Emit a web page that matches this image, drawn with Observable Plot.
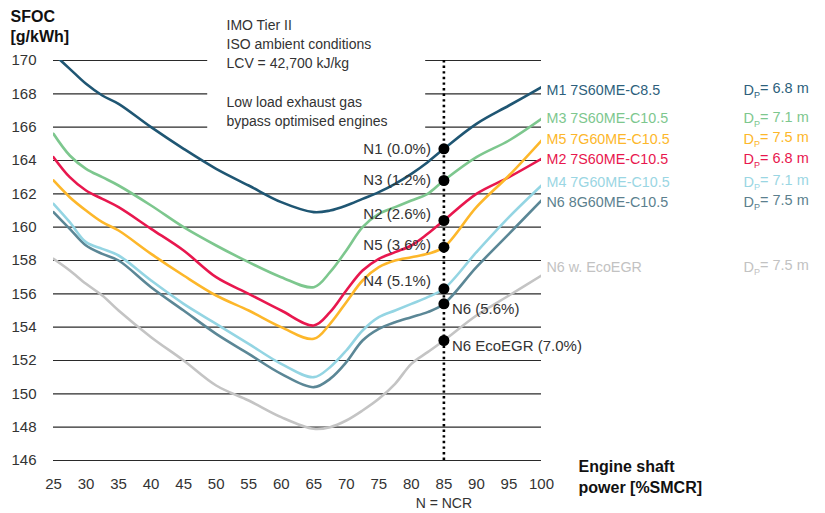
<!DOCTYPE html>
<html>
<head>
<meta charset="utf-8">
<style>
  body { margin: 0; background: #fff; }
  #chart svg { font-family: "Liberation Sans", Arial, sans-serif; }
</style>
<script src="https://cdn.jsdelivr.net/npm/d3@7"></script>
<script src="https://cdn.jsdelivr.net/npm/@observablehq/plot@0.6"></script>
</head>
<body>
<div id="chart"></div>
<script>
// ---- data ----
const loads = [25,27.5,30,32.5,35,40,45,50,55,60,65,67.5,70,72.5,75,77.5,80,82.5,85,90,95,100];
const xTicks = [25,30,35,40,45,50,55,60,65,70,75,80,85,90,95,100];
const yTicks = [146,148,150,152,154,156,158,160,162,164,166,168,170];

const seriesNames = ["M1 7S60ME-C8.5","M3 7S60ME-C10.5","M5 7G60ME-C10.5","M2 7S60ME-C10.5","M4 7G60ME-C10.5","N6 8G60ME-C10.5","N6 w. EcoEGR"];
const propellerDiam = ["6.8","7.1","7.5","6.8","7.1","7.5","7.5"];

const m1  = [170.4,169.5,168.6,167.9,167.4,166.0,164.7,163.5,162.5,161.5,160.9,161.0,161.3,161.7,162.1,162.6,163.2,163.9,164.7,166.2,167.3,168.4];
const m3  = [165.6,164.3,163.5,163.0,162.5,161.3,160.0,158.9,157.9,157.0,156.4,157.3,158.6,160.0,160.8,161.2,161.6,162.0,162.8,164.2,165.2,166.5];
const m5  = [162.8,161.8,161.0,160.3,159.8,158.4,157.1,155.9,155.0,154.0,153.3,154.2,155.5,156.8,157.6,158.0,158.2,158.4,158.8,161.2,163.1,165.2];
const m2  = [164.2,163.0,162.2,161.7,161.2,159.9,158.6,157.0,156.0,155.0,154.1,154.9,156.2,157.4,158.1,158.5,158.9,159.6,160.4,162.0,163.0,164.1];
const m4  = [161.4,160.3,159.1,158.7,158.3,156.8,155.4,154.2,153.0,151.8,151.0,151.6,152.6,153.8,154.6,155.0,155.4,155.8,156.3,158.5,160.6,162.5];
const n6  = [160.9,159.9,158.9,158.4,158.0,156.4,155.0,153.6,152.4,151.2,150.4,150.9,151.9,153.2,153.9,154.3,154.6,154.9,155.4,157.6,159.6,161.6];
const egr = [158.1,157.4,156.6,155.9,155.0,153.4,152.0,150.5,149.6,148.6,147.9,148.0,148.4,149.0,149.7,150.6,151.8,152.5,153.2,154.7,155.9,157.1];

const nclLoad = 85;
const pointLabels = ["N1 (0.0%)","N3 (1.2%)","N5 (3.6%)","N2 (2.6%)","N4 (5.1%)","N6 (5.6%)","N6 EcoEGR (7.0%)"];

const annotation = ["IMO Tier II","ISO ambient conditions","LCV = 42,700 kJ/kg","","Low load exhaust gas","bypass optimised engines"];

// ---- styles ----
const seriesValues = [m1, m3, m5, m2, m4, n6, egr];
const colors = ["#1f5673","#7dc78e","#fdb72a","#e8174e","#94d5e3","#5b8796","#c4c4c4"];
const textColors = ["#2d5f7c","#7dc78e","#fdb72a","#e8174e","#9ad6e3","#5b7f8e","#c2c2c2"];
const legendDy = [3, 0, -1, 1, -3, 2, -8];
const pointDy = [0, 0, -2, -6, -8, 5, 6];
const pointSide = ["left","left","left","left","left","right","right"];

const idx85 = loads.indexOf(nclLoad);
const gridTop = [166,168,170];
const gridFull = yTicks.filter(v => !gridTop.includes(v));

const marks = [];

// grid
marks.push(Plot.ruleY(gridFull, {y: d => d, x1: 25, x2: 100, stroke: "#2a2a2a", strokeWidth: 1.2}));
marks.push(Plot.ruleY(gridTop, {y: d => d, x1: 25, x2: 48.7, stroke: "#2a2a2a", strokeWidth: 1.2}));
marks.push(Plot.ruleY(gridTop, {y: d => d, x1: 82.2, x2: 100, stroke: "#2a2a2a", strokeWidth: 1.2}));

// lines (draw back-to-front so top ones overlay)
for (let i = seriesValues.length - 1; i >= 0; i--) {
  const pts = loads.map((x, j) => ({x, y: seriesValues[i][j]}));
  marks.push(Plot.line(pts, {x: "x", y: "y", stroke: colors[i], strokeWidth: 2.6, curve: "catmull-rom", clip: true}));
}

// NCR dotted line
marks.push(Plot.ruleX([nclLoad], {x: d => d, y1: 146, y2: 170, stroke: "#000", strokeWidth: 2.6, strokeDasharray: "2.4,3.2"}));

// points and labels at NCR
const pointRows = pointLabels.map((label, k) => {
  const si = label.startsWith("N1") ? 0 : label.startsWith("N3") ? 1 : label.startsWith("N5") ? 2 :
             label.startsWith("N2") ? 3 : label.startsWith("N4") ? 4 : label.startsWith("N6 E") ? 6 : 5;
  return {label, x: nclLoad, y: seriesValues[si][idx85], k};
});
marks.push(Plot.dot(pointRows, {x: "x", y: "y", r: 5.5, fill: "#000", stroke: "none"}));
pointRows.forEach(p => {
  const left = pointSide[p.k] === "left";
  marks.push(Plot.text([p], {x: "x", y: "y", text: "label", dx: left ? -13 : 8, dy: pointDy[p.k],
    textAnchor: left ? "end" : "start", fill: "#333", fontSize: 15}));
});

// series legend labels at right
seriesNames.forEach((name, i) => {
  const end = {x: 100, y: seriesValues[i][loads.length - 1], name, dp: "D|P= " + propellerDiam[i] + " m"};
  marks.push(Plot.text([end], {x: "x", y: "y", text: "name", dx: 5, dy: legendDy[i], textAnchor: "start", fill: textColors[i], fontSize: 14.3, clip: false}));
  marks.push(Plot.text([end], {x: "x", y: "y", text: "dp", dx: 202, dy: legendDy[i], textAnchor: "start", fill: textColors[i], fontSize: 14.5, clip: false}));
});

// titles / annotations
marks.push(Plot.text(["SFOC\n[g/kWh]"], {frameAnchor: "top-left", text: d => d, dx: -43, dy: -53, textAnchor: "start", lineAnchor: "top", lineHeight: 1.25, fontSize: 16, fontWeight: "bold", fill: "#111"}));
marks.push(Plot.text([annotation.join("\n")], {frameAnchor: "top-left", text: d => d, dx: 173, dy: -44, textAnchor: "start", lineAnchor: "top", lineHeight: 1.37, fontSize: 14, fill: "#333"}));
marks.push(Plot.text(["Engine shaft\npower [%SMCR]"], {frameAnchor: "bottom-right", text: d => d, dx: 37, dy: -3, textAnchor: "start", lineAnchor: "top", lineHeight: 1.3, fontSize: 16, fontWeight: "bold", fill: "#111"}));
marks.push(Plot.text(["N = NCR"], {x: () => nclLoad, frameAnchor: "bottom", text: d => d, dy: 43, textAnchor: "middle", lineAnchor: "middle", fontSize: 14, fill: "#333"}));

// axes
marks.push(Plot.axisX({ticks: xTicks, tickSize: 0, tickPadding: 18, fontSize: 15, color: "#333", tickFormat: d => String(d)}));
marks.push(Plot.axisY({ticks: yTicks, tickSize: 0, tickPadding: 17, fontSize: 15, color: "#333", tickFormat: d => String(d), label: null}));

const chart = Plot.plot({
  width: 825,
  height: 513,
  marginLeft: 53,
  marginRight: 284,
  marginTop: 60,
  marginBottom: 53,
  x: {domain: [25, 100], label: null},
  y: {domain: [146, 170], label: null},
  style: {fontFamily: '"Liberation Sans", Arial, sans-serif', background: "#fff", overflow: "visible"},
  marks
});

// subscript P in D_P
d3.select(chart).selectAll("text").each(function() {
  const t = this.textContent;
  if (t.startsWith("D|P")) {
    const rest = t.slice(3);
    const sel = d3.select(this);
    sel.text(null);
    sel.append("tspan").text("D");
    sel.append("tspan").attr("font-size", 9).attr("dy", "0.35em").text("P");
    sel.append("tspan").attr("dy", "-0.35em").text(rest);
  }
});

document.getElementById("chart").appendChild(chart);
</script>
</body>
</html>
